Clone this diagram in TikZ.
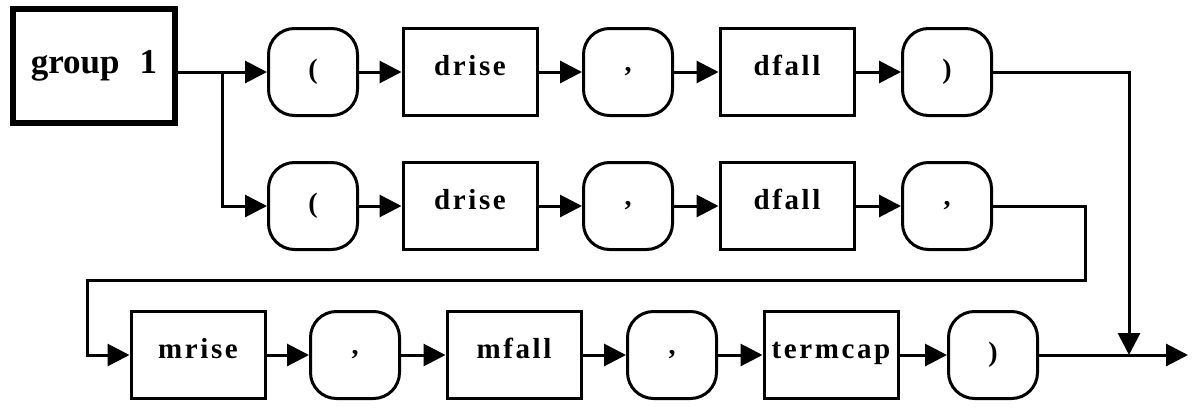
\documentclass[tikz,border=0pt]{standalone}
\usepackage{fontspec}
\setmainfont{Liberation Serif}
\usetikzlibrary{arrows.meta}
\begin{document}
\begin{tikzpicture}[x=0.5pt,y=-0.5pt,
  lbl/.style={font=\fontsize{14.5}{17}\selectfont\bfseries\addfontfeatures{LetterSpace=9}},
  punct/.style={font=\fontsize{14}{16}\selectfont\bfseries},
  sq/.style={draw, line width=1.5pt, minimum width=67pt, minimum height=43.5pt, inner sep=0pt, lbl, text height=10pt, text depth=7pt},
  rd/.style={draw, line width=1.5pt, rounded corners=13pt, minimum width=44.5pt, minimum height=43.5pt, inner sep=0pt, punct},
  conn/.style={line width=1.5pt},
  arr/.style={conn, -{Triangle[length=11pt,width=11pt]}}]
\useasboundingbox (0,0) rectangle (1192,407);
% group box
\node[draw, line width=2.8pt, minimum width=81pt, minimum height=57pt, inner sep=0pt,
      font=\fontsize{17.5}{20}\selectfont\bfseries] (g) at (94,66) {group\hspace{10pt}1};
% row 1
\node[rd] (lp1) at (313,72) {(};
\node[sq] (dr1) at (470,72) {drise};
\node[rd] (cm1) at (628,72) {,};
\node[sq] (df1) at (787,72) {dfall};
\node[rd] (rp1) at (947,72) {)};
% row 2
\node[rd] (lp2) at (313,206) {(};
\node[sq] (dr2) at (470,206) {drise};
\node[rd] (cm2) at (628,206) {,};
\node[sq] (df2) at (787,206) {dfall};
\node[rd] (cm2b) at (947,206) {,};
% row 3
\node[sq] (mr) at (198,355) {mrise};
\node[rd] (cm3) at (355,355) {,};
\node[sq] (mf) at (514,355) {mfall};
\node[rd] (cm4) at (672,355) {,};
\node[sq] (tc) at (831,355) {termcap};
\node[rd] (rp3) at (993,355) {)};
% helper coordinates
\coordinate (s) at (222,72);
\coordinate (j) at (1129,355);
\coordinate (e) at (1188,355);
\coordinate (t1) at (1085,280);
\coordinate (t2) at (87,280);
% connectors
\draw[arr] (g.east |- lp1) -- (lp1);
\draw[arr] (s) |- (lp2);
\draw[arr] (lp1) -- (dr1);
\draw[arr] (dr1) -- (cm1);
\draw[arr] (cm1) -- (df1);
\draw[arr] (df1) -- (rp1);
\draw[arr] (lp2) -- (dr2);
\draw[arr] (dr2) -- (cm2);
\draw[arr] (cm2) -- (df2);
\draw[arr] (df2) -- (cm2b);
\draw[arr] (cm2b.east) -| (t1) -- (t2) |- (mr.west);
\draw[arr] (mr) -- (cm3);
\draw[arr] (cm3) -- (mf);
\draw[arr] (mf) -- (cm4);
\draw[arr] (cm4) -- (tc);
\draw[arr] (tc) -- (rp3);
\draw[arr] (rp3) -- (e);
\draw[arr] (rp1.east) -| (j);
\end{tikzpicture}
\end{document}
